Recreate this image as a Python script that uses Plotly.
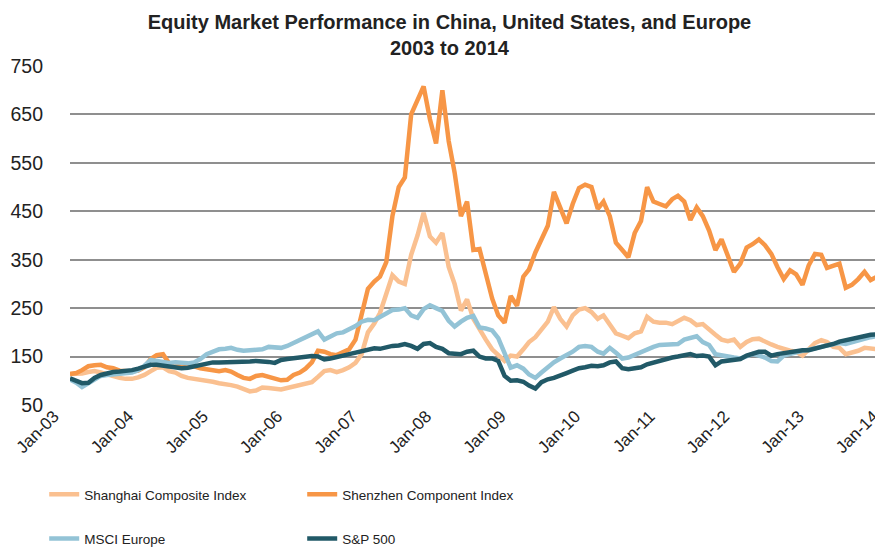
import pandas as pd
import plotly.graph_objects as go

# Monthly observations, Jan 2003 .. Jan 2014 (133 points)
dates = pd.date_range("2003-01-01", periods=133, freq="MS")

shanghai = [
    114, 114, 115, 118, 120, 117, 113, 109, 106, 104, 104, 107,   # 2003
    112, 120, 127, 128, 120, 117, 110, 106, 104, 104, 102, 98,    # 2004
    95, 94, 91, 88, 84, 78, 80, 86, 85, 83, 82, 85,               # 2005
    88, 92, 95, 97, 108, 120, 122, 118, 122, 128, 137, 155,       # 2006
    200, 218, 240, 280, 318, 305, 300, 360, 400, 447, 398, 385,   # 2007
    405, 335, 300, 245, 268, 228, 205, 185, 165, 152, 141, 152,   # 2008
    150, 165, 180, 190, 205, 222, 252, 228, 212, 235, 247, 250,   # 2009
    242, 228, 235, 215, 198, 193, 188, 198, 202, 232, 222, 220,   # 2010
    220, 217, 223, 230, 225, 215, 217, 205, 195, 185, 182, 185,   # 2011
    170, 180, 186, 187, 180, 175, 170, 165, 162, 160, 152, 165,   # 2012
    178, 184, 180, 170, 168, 155, 158, 162, 168, 166, 165, 160,   # 2013
    155,                                                          # 2014
]

shenzhen = [
    114, 116, 122, 130, 132, 133, 128, 126, 121, 120, 119, 121,   # 2003
    128, 145, 153, 155, 136, 131, 130, 131, 130, 126, 124, 121,   # 2004
    120, 122, 119, 112, 106, 104, 110, 112, 108, 104, 101, 102,   # 2005
    112, 117, 125, 138, 162, 160, 155, 153, 160, 165, 185, 235,   # 2006
    290, 305, 315, 345, 440, 500, 520, 650, 677, 708, 640, 590,   # 2007
    700, 595, 530, 440, 470, 370, 372, 320, 270, 235, 220, 275,   # 2008
    255, 315, 330, 365, 390, 420, 490, 455, 425, 465, 498, 505,   # 2009
    500, 455, 470, 440, 385, 370, 355, 405, 430, 500, 470, 465,   # 2010
    460, 475, 482, 470, 432, 458, 440, 410, 370, 392, 355, 325,   # 2011
    342, 375, 382, 392, 380, 362, 335, 310, 328, 320, 298, 338,   # 2012
    362, 360, 333, 338, 342, 292, 298, 310, 325, 308, 315, 295,   # 2013
    290,                                                          # 2014
]

msci_europe = [
    103, 96, 87, 95, 104, 110, 112, 113, 114, 115, 117, 122,      # 2003
    131, 143, 141, 139, 137, 138, 137, 136, 138, 145, 155, 160,   # 2004
    165, 166, 168, 164, 162, 163, 164, 165, 170, 170, 168, 172,   # 2005
    178, 183, 188, 194, 202, 185, 192, 198, 200, 206, 213, 222,   # 2006
    226, 225, 232, 240, 246, 247, 250, 235, 230, 248, 256, 250,   # 2007
    244, 224, 212, 222, 230, 234, 210, 208, 204, 188, 155, 127,   # 2008
    132, 125, 113, 106, 117, 128, 138, 146, 153, 160, 170, 172,   # 2009
    170, 160, 156, 168, 158, 146, 148, 154, 160, 166, 170, 174,   # 2010
    175, 176, 176, 185, 189, 192, 180, 174, 155, 152, 150, 148,   # 2011
    146, 150, 155, 152, 148, 141, 140, 152, 156, 158, 162, 164,   # 2012
    166, 170, 173, 175, 178, 176, 180, 184, 186, 190, 192, 194,   # 2013
    196,                                                          # 2014
]

sp500 = [
    105, 100, 95, 96, 106, 112, 116, 118, 119, 120, 122, 125,     # 2003
    128, 133, 133, 131, 129, 128, 126, 127, 130, 133, 136, 138,   # 2004
    138, 138, 140, 139, 138, 140, 141, 141, 139, 137, 143, 145,   # 2005
    147, 148, 149, 151, 150, 144, 146, 148, 152, 155, 158, 160,   # 2006
    163, 167, 166, 170, 172, 173, 176, 172, 166, 176, 178, 170,   # 2007
    166, 157, 155, 155, 160, 162, 150, 146, 146, 141, 110, 100,   # 2008
    101, 98, 90, 84, 97, 103, 106, 110, 116, 121, 126, 128,       # 2009
    131, 130, 132, 138, 140, 126, 124, 126, 128, 134, 138, 141,   # 2010
    144, 148, 150, 153, 155, 151, 152, 150, 132, 140, 141, 143,   # 2011
    145, 152, 157, 160, 160, 152, 155, 157, 160, 162, 163, 163,   # 2012
    166, 171, 173, 176, 181, 184, 187, 189, 192, 195, 196, 200,   # 2013
    203,                                                          # 2014
]

series_names = ["Shanghai Composite Index", "Shenzhen Component Index",
                "MSCI Europe", "S&P 500"]
series_values = [shanghai, shenzhen, msci_europe, sp500]
series_colors = ["#FAC090", "#F79646", "#93C3D6", "#215967"]
series_legend = ["legend", "legend", "legend2", "legend2"]

tick_dates = [f"{y}-01-01" for y in range(2003, 2015)]
tick_text = ["Jan-03", "Jan-04", "Jan-05", "Jan-06", "Jan-07", "Jan-08",
             "Jan-09", "Jan-10", "Jan-11", "Jan-12", "Jan-13", "Jan-14"]
y_ticks = [50, 150, 250, 350, 450, 550, 650, 750]

fig = go.Figure()
for name, vals, col, lg in zip(series_names, series_values, series_colors, series_legend):
    fig.add_trace(go.Scatter(
        x=dates, y=vals, name=name, mode="lines",
        line=dict(color=col, width=4.5),
        legend=lg,
    ))

ytick_font = dict(family="Liberation Sans, Arial, sans-serif", size=19.5, color="#222222")
xtick_font = dict(family="Liberation Sans, Arial, sans-serif", size=17, color="#222222")
legend_font = dict(family="Liberation Sans, Arial, sans-serif", size=13.5, color="#222222")

fig.update_layout(
    width=883, height=547,
    margin=dict(l=62, r=1, t=58, b=150),
    paper_bgcolor="white", plot_bgcolor="white",
    title=dict(
        text="<b>Equity Market Performance in China, United States, and Europe<br>2003 to 2014</b>",
        x=0.5, xanchor="center", y=0.962, yanchor="top",
        font=dict(family="Liberation Sans, Arial, sans-serif", size=20, color="#222222"),
    ),
    xaxis=dict(
        type="date", range=["2003-01-01", "2014-01-04"],
        tickvals=tick_dates, ticktext=tick_text, tickangle=-45,
        showgrid=False, zeroline=False, showline=False, ticks="",
        tickfont=xtick_font, ticklabelshift=-16, ticklabelstandoff=-3,
    ),
    yaxis=dict(
        range=[50, 750], tickvals=y_ticks,
        showgrid=True, gridcolor="#8F8F8F", gridwidth=1.6,
        zeroline=False, showline=False, ticks="",
        tickfont=ytick_font, ticklabelstandoff=26,
    ),
    legend=dict(
        orientation="h", xref="container", yref="container",
        x=0.041, y=0.139, xanchor="left", yanchor="top",
        entrywidth=213, entrywidthmode="pixels",
        font=legend_font, bgcolor="rgba(0,0,0,0)",
    ),
    legend2=dict(
        orientation="h", xref="container", yref="container",
        x=0.041, y=0.058, xanchor="left", yanchor="top",
        entrywidth=213, entrywidthmode="pixels",
        font=legend_font, bgcolor="rgba(0,0,0,0)",
    ),
    showlegend=True,
)

fig.write_html("out.html")
